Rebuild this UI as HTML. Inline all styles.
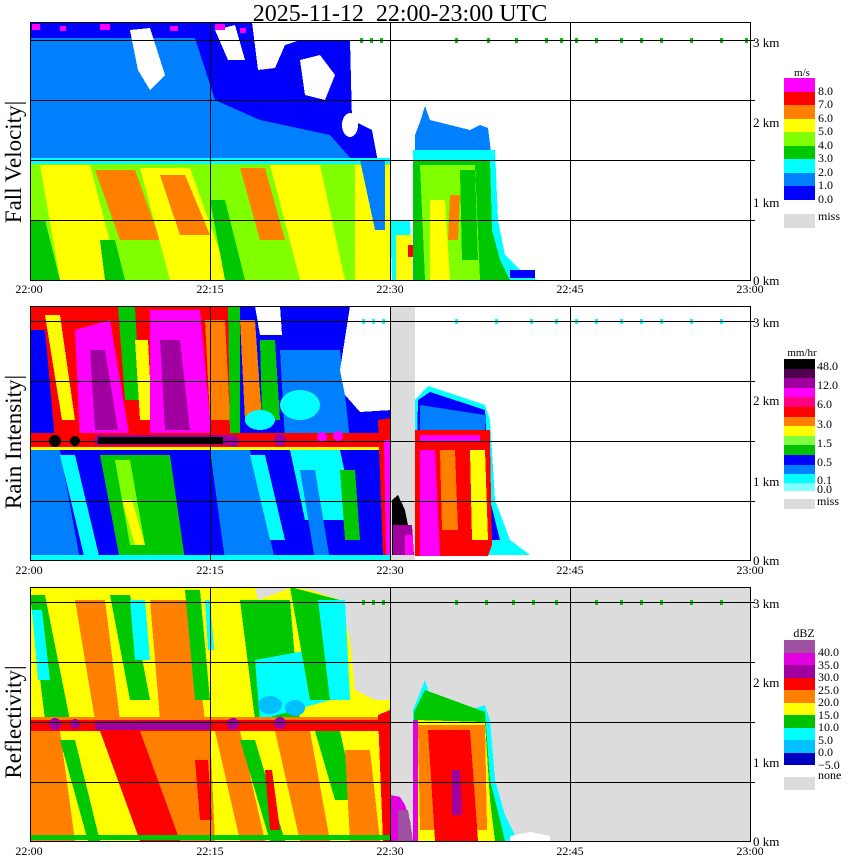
<!DOCTYPE html>
<html><head><meta charset="utf-8"><style>
html,body{margin:0;padding:0;background:#fff;}
svg{display:block;}
text{font-family:"Liberation Serif",serif;fill:#000;}
</style></head><body>
<svg width="850" height="868" viewBox="0 0 850 868" xmlns="http://www.w3.org/2000/svg" shape-rendering="crispEdges">
<defs>
<clipPath id="c1"><rect x="30" y="22" width="720" height="258"/></clipPath>
<clipPath id="c2"><rect x="30" y="306" width="720" height="254"/></clipPath>
<clipPath id="c3"><rect x="30" y="587" width="720" height="254"/></clipPath>
</defs>
<text x="400" y="21" font-size="24" text-anchor="middle">2025-11-12&#160;&#160;22:00-23:00&#160;UTC</text>

<!-- PANEL 1 -->
<g clip-path="url(#c1)">
<rect x="30" y="22" width="720" height="258" fill="#fff"/>
<polygon fill="#0000ff" points="30,22 252,22 258,70 275,68 285,45 300,40 350,40 352,120 372,130 385,200 380,215 30,215"/>
<polygon fill="#0080ff" points="30,38 195,38 215,100 260,120 330,135 352,160 30,160"/>
<polygon fill="#fff" points="130,30 150,28 165,75 150,90 138,70"/>
<polygon fill="#fff" points="215,30 235,25 245,60 228,60"/>
<polygon fill="#fff" points="300,60 320,55 335,75 325,100 305,95"/>
<ellipse cx="350" cy="125" rx="8" ry="12" fill="#fff"/>
<g fill="#ff00ff"><rect x="32" y="24" width="8" height="6"/><rect x="60" y="26" width="6" height="5"/><rect x="100" y="24" width="10" height="6"/><rect x="170" y="26" width="8" height="5"/><rect x="215" y="24" width="10" height="6"/><rect x="240" y="28" width="6" height="5"/></g>
<polygon fill="#80ff00" points="30,160 390,160 390,280 30,280"/>
<polygon fill="#ffff00" points="40,165 90,165 120,280 60,280"/>
<polygon fill="#ff8000" points="95,170 135,170 160,240 120,240"/>
<polygon fill="#ffff00" points="140,168 190,168 230,280 170,280"/>
<polygon fill="#ff8000" points="160,175 185,175 210,235 180,235"/>
<polygon fill="#ff8000" points="240,168 265,168 285,240 260,240"/>
<polygon fill="#ffff00" points="270,165 320,165 345,280 300,280"/>
<polygon fill="#ffff00" points="355,165 390,165 390,280 355,280"/>
<polygon fill="#00c800" points="30,220 45,220 60,280 30,280"/>
<polygon fill="#00c800" points="210,200 225,200 245,280 225,280"/>
<polygon fill="#00c800" points="100,240 115,240 125,280 105,280"/>
<rect x="30" y="158" width="360" height="6" fill="#00ffff"/>
<polygon fill="#0080ff" points="360,160 385,160 385,230 375,230"/>
<polygon fill="#00ffff" points="390,220 410,220 412,280 392,280"/>
<polygon fill="#ffff00" points="396,235 412,235 412,280 396,280"/>
<rect x="408" y="245" width="5" height="12" fill="#ff0000"/>
<!-- cell 2 -->
<polygon fill="#0080ff" points="415,135 420,122 425,106 430,120 450,125 470,130 480,125 488,128 492,160 415,160"/>
<polygon fill="#00ffff" points="413,150 495,150 498,220 505,255 520,270 535,275 535,280 413,280"/>
<polygon fill="#00c800" points="413,160 490,160 492,230 500,260 510,280 413,280"/>
<polygon fill="#80ff00" points="420,165 475,165 480,280 425,280"/>
<polygon fill="#ffff00" points="430,200 445,200 450,280 430,280"/>
<polygon fill="#ff8000" points="450,195 460,195 458,240 448,240"/>
<polygon fill="#00c800" points="460,170 475,170 478,260 462,260"/>
<rect x="510" y="270" width="25" height="8" fill="#0000ff"/>
<g fill="#00c800">
<rect x="360" y="38" width="3" height="5"/><rect x="370" y="38" width="3" height="5"/><rect x="380" y="38" width="3" height="5"/><rect x="455" y="38" width="3" height="5"/><rect x="487" y="38" width="3" height="5"/><rect x="515" y="38" width="3" height="5"/><rect x="545" y="38" width="3" height="5"/><rect x="560" y="38" width="3" height="5"/><rect x="575" y="38" width="3" height="5"/><rect x="595" y="38" width="3" height="5"/><rect x="620" y="38" width="3" height="5"/><rect x="640" y="38" width="3" height="5"/><rect x="660" y="38" width="3" height="5"/><rect x="690" y="38" width="3" height="5"/><rect x="720" y="38" width="3" height="5"/><rect x="745" y="38" width="3" height="5"/>
</g>
</g>
<g stroke="#000" stroke-width="1" fill="none">
<rect x="30.5" y="22.5" width="720" height="258"/>
<line x1="30" y1="40.5" x2="755" y2="40.5"/><line x1="30" y1="100.5" x2="755" y2="100.5"/><line x1="30" y1="160.5" x2="755" y2="160.5"/><line x1="30" y1="220.5" x2="755" y2="220.5"/>
<line x1="210.5" y1="22" x2="210.5" y2="280"/><line x1="390.5" y1="22" x2="390.5" y2="280"/><line x1="570.5" y1="22" x2="570.5" y2="280"/>
</g>

<!-- PANEL 2 -->
<g clip-path="url(#c2)">
<rect x="30" y="306" width="720" height="254" fill="#fff"/>
<polygon fill="#ff0000" points="30,306 240,306 240,440 30,440"/>
<polygon fill="#0000ff" points="30,330 45,330 55,440 30,440"/>
<polygon fill="#ffff00" points="45,315 60,315 75,420 62,420"/>
<polygon fill="#ff00ff" points="75,330 110,320 130,440 80,440"/>
<polygon fill="#a000a0" points="90,350 105,350 118,430 95,430"/>
<polygon fill="#00c800" points="118,306 135,306 140,400 125,400"/>
<polygon fill="#ffff00" points="135,340 148,340 152,420 140,420"/>
<polygon fill="#ff00ff" points="150,310 200,310 212,440 150,440"/>
<polygon fill="#a000a0" points="160,340 180,340 190,430 165,430"/>
<polygon fill="#ff8000" points="205,320 225,320 230,420 210,420"/>
<polygon fill="#00c800" points="228,306 240,306 245,440 230,440"/>
<polygon fill="#0000ff" points="240,306 392,306 392,440 240,440"/>
<polygon fill="#ff8000" points="240,320 255,320 262,420 245,420"/>
<polygon fill="#00c800" points="260,340 275,340 280,420 262,420"/>
<polygon fill="#0080ff" points="280,350 340,350 350,440 285,440"/>
<ellipse cx="300" cy="405" rx="20" ry="15" fill="#00ffff"/>
<ellipse cx="260" cy="420" rx="15" ry="10" fill="#00ffff"/>
<polygon fill="#fff" points="255,306 280,306 282,335 260,335"/>
<polygon fill="#fff" points="350,306 392,306 392,410 360,412 345,395 340,370"/>
<rect x="30" y="433" width="360" height="14" fill="#ff0000"/>
<rect x="30" y="447" width="360" height="3" fill="#ffff00"/>
<rect x="95" y="435" width="135" height="10" fill="#a000a0"/>
<rect x="98" y="437" width="125" height="7" fill="#000"/>
<circle cx="55" cy="441" r="6" fill="#000"/><circle cx="75" cy="441" r="5" fill="#000"/>
<circle cx="233" cy="441" r="6" fill="#a000a0"/><circle cx="280" cy="440" r="6" fill="#a000a0"/><circle cx="322" cy="437" r="5" fill="#ff00ff"/><circle cx="338" cy="436" r="5" fill="#ff00ff"/>
<polygon fill="#0000ff" points="30,450 390,450 390,560 30,560"/>
<polygon fill="#0080ff" points="30,450 60,450 80,560 30,560"/>
<polygon fill="#00ffff" points="60,455 75,455 100,560 85,560"/>
<polygon fill="#00c800" points="100,455 170,455 185,560 120,560"/>
<polygon fill="#80ff00" points="115,460 130,460 145,545 130,545"/>
<polygon fill="#ffff00" points="122,500 132,500 145,545 135,545"/>
<polygon fill="#0080ff" points="210,450 250,450 275,560 225,560"/>
<polygon fill="#00ffff" points="250,455 265,455 285,540 270,540"/>
<polygon fill="#00ffff" points="290,450 340,450 355,520 305,520"/>
<polygon fill="#0080ff" points="300,470 315,470 330,560 315,560"/>
<polygon fill="#00c800" points="340,470 355,470 360,540 345,540"/>
<polygon fill="#ff0000" points="378,420 392,418 392,555 383,555"/>
<polygon fill="#ff00ff" points="384,440 390,440 390,555 386,555"/>
<rect x="30" y="555" width="360" height="5" fill="#00ffff"/>
<rect x="390" y="306" width="25" height="254" fill="#dcdcdc"/>
<polygon fill="#000" points="392,500 398,495 405,510 410,535 412,555 392,555"/>
<polygon fill="#a000a0" points="393,525 412,525 414,555 393,555"/>
<rect x="405" y="535" width="8" height="20" fill="#ff00ff"/>
<polygon fill="#00ffff" points="415,400 428,386 455,395 485,405 490,420 495,500 510,540 530,555 415,555"/>
<polygon fill="#0000ff" points="418,400 430,392 485,410 490,500 500,540 415,540"/>
<polygon fill="#0080ff" points="420,405 485,415 485,430 420,430"/>
<rect x="415" y="430" width="75" height="14" fill="#ff0000"/>
<rect x="420" y="435" width="60" height="6" fill="#ff00ff"/>
<polygon fill="#ff0000" points="415,444 490,444 492,545 488,556 415,556"/>
<polygon fill="#ff00ff" points="420,450 435,450 440,556 420,556"/>
<polygon fill="#ff8000" points="440,450 455,450 458,530 442,530"/>
<polygon fill="#ffff00" points="470,450 485,450 488,540 472,540"/>
<g fill="#00ffff">
<rect x="362" y="319" width="3" height="5"/><rect x="372" y="319" width="3" height="5"/><rect x="382" y="319" width="3" height="5"/><rect x="455" y="319" width="3" height="5"/><rect x="495" y="319" width="3" height="5"/><rect x="530" y="319" width="3" height="5"/><rect x="555" y="319" width="3" height="5"/><rect x="575" y="319" width="3" height="5"/><rect x="595" y="319" width="3" height="5"/><rect x="620" y="319" width="3" height="5"/><rect x="640" y="319" width="3" height="5"/><rect x="660" y="319" width="3" height="5"/><rect x="690" y="319" width="3" height="5"/><rect x="720" y="319" width="3" height="5"/>
</g>
</g>
<g stroke="#000" stroke-width="1" fill="none">
<rect x="30.5" y="306.5" width="720" height="254"/>
<line x1="30" y1="321.5" x2="755" y2="321.5"/><line x1="30" y1="381.5" x2="755" y2="381.5"/><line x1="30" y1="441.5" x2="755" y2="441.5"/><line x1="30" y1="501.5" x2="755" y2="501.5"/>
<line x1="210.5" y1="306" x2="210.5" y2="560"/><line x1="390.5" y1="306" x2="390.5" y2="560"/><line x1="570.5" y1="306" x2="570.5" y2="560"/>
</g>

<!-- PANEL 3 -->
<g clip-path="url(#c3)">
<rect x="30" y="587" width="720" height="254" fill="#dcdcdc"/>
<polygon fill="#ffff00" points="30,587 255,587 258,600 285,590 290,587 310,590 340,600 350,640 355,690 375,700 390,700 390,841 30,841"/>
<polygon fill="#00c800" points="30,595 45,595 70,720 45,720"/>
<polygon fill="#00ffff" points="32,610 42,610 50,680 38,680"/>
<polygon fill="#ff8000" points="75,600 105,600 120,720 95,720"/>
<polygon fill="#00c800" points="110,595 130,595 150,700 130,700"/>
<polygon fill="#00ffff" points="130,600 145,600 150,660 135,660"/>
<polygon fill="#ff8000" points="150,600 190,600 205,720 160,720"/>
<polygon fill="#00c800" points="185,590 200,590 210,700 195,700"/>
<polygon fill="#00ffff" points="205,600 215,600 218,650 208,650"/>
<polygon fill="#ffff00" points="210,600 240,600 250,720 220,720"/>
<polygon fill="#00c800" points="240,600 290,600 300,720 255,720"/>
<polygon fill="#00ffff" points="255,660 310,650 330,700 260,720"/>
<polygon fill="#00c800" points="290,587 340,600 350,700 310,700"/>
<polygon fill="#00ffff" points="318,600 345,600 350,700 330,700"/>
<ellipse cx="270" cy="705" rx="12" ry="9" fill="#00c0ff"/>
<ellipse cx="295" cy="708" rx="10" ry="8" fill="#00c0ff"/>
<rect x="30" y="717" width="360" height="14" fill="#ff0000"/>
<rect x="30" y="717" width="360" height="3" fill="#ff8000"/>
<rect x="95" y="721" width="115" height="9" fill="#a000a0"/>
<circle cx="55" cy="724" r="6" fill="#a000a0"/><circle cx="75" cy="724" r="5" fill="#a000a0"/><circle cx="233" cy="724" r="6" fill="#a000a0"/><circle cx="280" cy="723" r="6" fill="#a000a0"/>
<polygon fill="#ff8000" points="30,731 60,731 75,841 30,841"/>
<polygon fill="#00c800" points="60,740 75,740 100,841 88,841"/>
<polygon fill="#ff0000" points="100,731 140,731 180,841 140,841"/>
<polygon fill="#ff8000" points="140,731 210,731 215,841 180,841"/>
<polygon fill="#ff0000" points="195,760 208,760 212,820 200,820"/>
<polygon fill="#ff8000" points="215,731 240,731 265,841 240,841"/>
<polygon fill="#00c800" points="240,740 255,740 285,841 270,841"/>
<polygon fill="#ff8000" points="275,731 310,731 330,841 300,841"/>
<polygon fill="#ff0000" points="265,770 272,770 280,830 270,830"/>
<polygon fill="#00c800" points="315,731 340,731 355,800 335,800"/>
<polygon fill="#ff8000" points="345,750 370,750 380,841 350,841"/>
<polygon fill="#ff0000" points="378,715 390,710 390,841 383,841"/>
<rect x="30" y="835" width="360" height="5" fill="#00c800"/>
<polygon fill="#e000e0" points="390,795 400,797 405,805 410,820 413,841 390,841"/>
<polygon fill="#a050a0" points="398,810 408,810 413,841 398,841"/>
<polygon fill="#00ffff" points="413,710 425,680 430,695 440,700 470,710 485,705 490,720 495,780 505,815 515,835 515,841 413,841"/>
<polygon fill="#00c800" points="414,712 425,690 485,712 490,780 500,820 505,841 414,841"/>
<polygon fill="#ffff00" points="416,720 485,722 490,800 495,841 416,841"/>
<polygon fill="#ff8000" points="418,725 485,725 487,830 420,830"/>
<polygon fill="#ff0000" points="428,730 470,730 478,841 435,841"/>
<polygon fill="#a000a0" points="452,770 460,770 462,815 452,815"/>
<polygon fill="#e000e0" points="413,720 418,720 418,841 413,841"/>
<polygon fill="#fff" points="510,836 530,832 550,836 550,841 510,841"/>
<g fill="#00c800">
<rect x="362" y="600" width="3" height="5"/><rect x="372" y="600" width="3" height="5"/><rect x="382" y="600" width="3" height="5"/><rect x="455" y="600" width="3" height="5"/><rect x="485" y="600" width="3" height="5"/><rect x="512" y="600" width="3" height="5"/><rect x="532" y="600" width="3" height="5"/><rect x="555" y="600" width="3" height="5"/><rect x="595" y="600" width="3" height="5"/><rect x="620" y="600" width="3" height="5"/><rect x="640" y="600" width="3" height="5"/><rect x="660" y="600" width="3" height="5"/><rect x="690" y="600" width="3" height="5"/><rect x="720" y="600" width="3" height="5"/>
</g>
</g>
<g stroke="#000" stroke-width="1" fill="none">
<rect x="30.5" y="587.5" width="720" height="254"/>
<line x1="30" y1="602.5" x2="755" y2="602.5"/><line x1="30" y1="662.5" x2="755" y2="662.5"/><line x1="30" y1="722.5" x2="755" y2="722.5"/><line x1="30" y1="782.5" x2="755" y2="782.5"/>
<line x1="210.5" y1="587" x2="210.5" y2="841"/><line x1="390.5" y1="587" x2="390.5" y2="841"/><line x1="570.5" y1="587" x2="570.5" y2="841"/>
</g>

<!-- axis labels -->
<g font-size="13">
<text x="753" y="47">3 km</text><text x="753" y="127">2 km</text><text x="753" y="207">1 km</text><text x="753" y="285">0 km</text>
<text x="753" y="327">3 km</text><text x="753" y="405">2 km</text><text x="753" y="486">1 km</text><text x="753" y="565">0 km</text>
<text x="753" y="608">3 km</text><text x="753" y="687">2 km</text><text x="753" y="767">1 km</text><text x="753" y="846">0 km</text>
</g>
<g font-size="12" text-anchor="middle">
<text x="29" y="293">22:00</text><text x="210" y="293">22:15</text><text x="390" y="293">22:30</text><text x="570" y="293">22:45</text><text x="750" y="293">23:00</text>
<text x="29" y="574">22:00</text><text x="210" y="574">22:15</text><text x="390" y="574">22:30</text><text x="570" y="574">22:45</text><text x="750" y="574">23:00</text>
<text x="29" y="855">22:00</text><text x="210" y="855">22:15</text><text x="390" y="855">22:30</text><text x="570" y="855">22:45</text><text x="750" y="855">23:00</text>
</g>
<g font-size="23">
<text transform="translate(21,162) rotate(-90)" text-anchor="middle">Fall Velocity|</text>
<text transform="translate(21,442) rotate(-90)" text-anchor="middle">Rain Intensity|</text>
<text transform="translate(21,722) rotate(-90)" text-anchor="middle">Reflectivity|</text>
</g>

<!-- legend 1 -->
<text x="802" y="76" font-size="11" text-anchor="middle">m/s</text>
<rect x="784" y="78" width="31" height="14" fill="#ff00ff"/>
<rect x="784" y="92" width="31" height="13" fill="#ff0000"/>
<rect x="784" y="105" width="31" height="14" fill="#ff8000"/>
<rect x="784" y="119" width="31" height="13" fill="#ffff00"/>
<rect x="784" y="132" width="31" height="14" fill="#80ff00"/>
<rect x="784" y="146" width="31" height="13" fill="#00c800"/>
<rect x="784" y="159" width="31" height="14" fill="#00ffff"/>
<rect x="784" y="173" width="31" height="13" fill="#0080ff"/>
<rect x="784" y="186" width="31" height="14" fill="#0000ff"/>
<rect x="784" y="214" width="31" height="14" fill="#dcdcdc"/>
<g font-size="12"><text x="818" y="95">8.0</text><text x="818" y="108">7.0</text><text x="818" y="122">6.0</text><text x="818" y="135">5.0</text><text x="818" y="149">4.0</text><text x="818" y="162">3.0</text><text x="818" y="176">2.0</text><text x="818" y="189">1.0</text><text x="818" y="203">0.0</text><text x="818" y="220">miss</text></g>

<!-- legend 2 -->
<text x="802" y="356" font-size="11" text-anchor="middle">mm/hr</text>
<rect x="784" y="359" width="31" height="10" fill="#000"/>
<rect x="784" y="369" width="31" height="9" fill="#500050"/>
<rect x="784" y="378" width="31" height="10" fill="#a000a0"/>
<rect x="784" y="388" width="31" height="9" fill="#ff00ff"/>
<rect x="784" y="397" width="31" height="10" fill="#ff0080"/>
<rect x="784" y="407" width="31" height="10" fill="#ff0000"/>
<rect x="784" y="417" width="31" height="9" fill="#ff8000"/>
<rect x="784" y="426" width="31" height="10" fill="#ffff00"/>
<rect x="784" y="436" width="31" height="9" fill="#80ff40"/>
<rect x="784" y="445" width="31" height="10" fill="#00c000"/>
<rect x="784" y="455" width="31" height="10" fill="#0000ff"/>
<rect x="784" y="465" width="31" height="9" fill="#0080ff"/>
<rect x="784" y="474" width="31" height="9" fill="#00ffff"/>
<rect x="784" y="483" width="31" height="8" fill="#80ffff"/>
<rect x="784" y="499" width="31" height="10" fill="#dcdcdc"/>
<g font-size="12"><text x="817" y="370">48.0</text><text x="817" y="389">12.0</text><text x="817" y="408">6.0</text><text x="817" y="428">3.0</text><text x="817" y="447">1.5</text><text x="817" y="466">0.5</text><text x="817" y="484">0.1</text><text x="817" y="493">0.0</text><text x="817" y="505">miss</text></g>

<!-- legend 3 -->
<text x="804" y="637" font-size="12" text-anchor="middle">dBZ</text>
<rect x="784" y="640" width="31" height="13" fill="#a050a0"/>
<rect x="784" y="653" width="31" height="12" fill="#e000e0"/>
<rect x="784" y="665" width="31" height="13" fill="#a000a0"/>
<rect x="784" y="678" width="31" height="12" fill="#ff0000"/>
<rect x="784" y="690" width="31" height="13" fill="#ff8000"/>
<rect x="784" y="703" width="31" height="12" fill="#ffff00"/>
<rect x="784" y="715" width="31" height="13" fill="#00c000"/>
<rect x="784" y="728" width="31" height="12" fill="#00ffff"/>
<rect x="784" y="740" width="31" height="13" fill="#00c0ff"/>
<rect x="784" y="753" width="31" height="12" fill="#0000c0"/>
<rect x="784" y="777" width="31" height="13" fill="#dcdcdc"/>
<g font-size="12"><text x="818" y="656">40.0</text><text x="818" y="669">35.0</text><text x="818" y="681">30.0</text><text x="818" y="694">25.0</text><text x="818" y="706">20.0</text><text x="818" y="719">15.0</text><text x="818" y="731">10.0</text><text x="818" y="744">5.0</text><text x="818" y="756">0.0</text><text x="818" y="769">−5.0</text><text x="818" y="779">none</text></g>
</svg>
</body></html>
